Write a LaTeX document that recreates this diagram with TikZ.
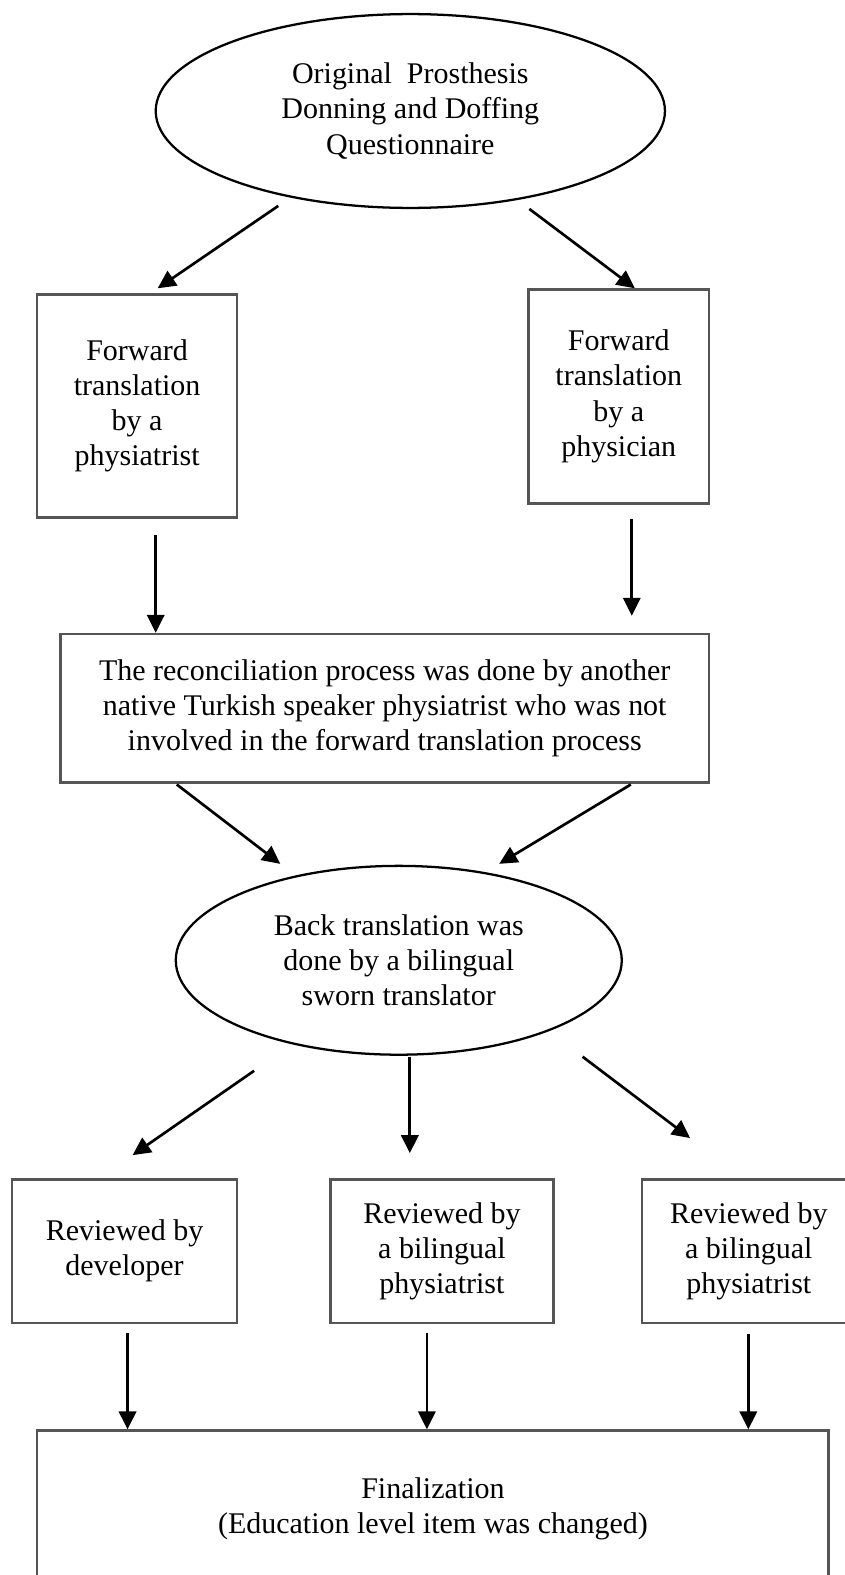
\documentclass[tikz,border=0pt]{standalone}
\usepackage{fontspec}
\setmainfont{Liberation Serif}
\usetikzlibrary{shapes.geometric,arrows.meta}
\definecolor{boxgray}{RGB}{85,85,85}
\tikzset{
  sz/.style 2 args={minimum width={0.7535pt*#1},minimum height={0.7535pt*#2}},
  boxnode/.style={draw=boxgray,line width=1.9pt,rectangle,inner sep=0pt,align=center,
    font=\fontsize{22.5pt}{26.4pt}\selectfont},
  ellnode/.style={draw=black,line width=1.7pt,ellipse,inner sep=0pt,align=center,
    font=\fontsize{22.5pt}{26.4pt}\selectfont},
  arr/.style={line width=2pt,-{Triangle[length=13.5pt,width=13pt]}}
}
\begin{document}
\begin{tikzpicture}[x=0.7535pt,y=-0.7535pt]
\useasboundingbox (0,0) rectangle (841,1568);
\clip (0,0) rectangle (841,1568);
% nodes
\node[ellnode,sz={507}{193}] (orig) at (408.5,110.5)
  {Original\hspace{0.25em} Prosthesis\\Donning and Doffing\\Questionnaire};
\node[boxnode,sz={199}{222}] (fwdA) at (136.5,404)
  {Forward\\translation\\by a\\physiatrist};
\node[boxnode,sz={180}{213}] (fwdB) at (616,394.5)
  {Forward\\translation\\by a\\physician};
\node[boxnode,sz={646}{148}] (recon) at (383,705)
  {The reconciliation process was done by another\\native Turkish speaker physiatrist who was not\\involved in the forward translation process};
\node[ellnode,sz={444}{188}] (back) at (397,956)
  {Back translation was\\done by a bilingual\\sworn translator};
\node[boxnode,sz={224}{143}] (revA) at (124,1245.5)
  {Reviewed by\\developer};
\node[boxnode,sz={222}{143}] (revB) at (440,1245.5)
  {Reviewed by\\a bilingual\\physiatrist};
\node[boxnode,sz={213}{143}] (revC) at (745.5,1245.5)
  {Reviewed by\\a bilingual\\physiatrist};
\node[boxnode,sz={788}{156}] (final) at (431,1502)
  {Finalization\\(Education level item was changed)};
% arrow end points
\coordinate (a1s) at (277,205);  \coordinate (a1e) at (157,287);
\coordinate (a2s) at (527,208);  \coordinate (a2e) at (632,287);
\coordinate (a3s) at (155,533);  \coordinate (a3e) at (155,630);
\coordinate (a4s) at (629,517);  \coordinate (a4e) at (629,613);
\coordinate (a5s) at (176,781);  \coordinate (a5e) at (279,860);
\coordinate (a6s) at (628,781);  \coordinate (a6e) at (497,860);
\coordinate (a7s) at (253,1066); \coordinate (a7e) at (132,1150);
\coordinate (a8s) at (408,1052); \coordinate (a8e) at (408,1148);
\coordinate (a9s) at (580,1052); \coordinate (a9e) at (687,1133);
\coordinate (b1s) at (127,1327); \coordinate (b1e) at (127,1423);
\coordinate (b2s) at (425,1327); \coordinate (b2e) at (425,1423);
\coordinate (b3s) at (745,1328); \coordinate (b3e) at (745,1423);
% arrows
\draw[arr] (a1s) -- (a1e);
\draw[arr] (a2s) -- (a2e);
\draw[arr] (a3s) -- (a3e);
\draw[arr] (a4s) -- (a4e);
\draw[arr] (a5s) -- (a5e);
\draw[arr] (a6s) -- (a6e);
\draw[arr] (a7s) -- (a7e);
\draw[arr] (a8s) -- (a8e);
\draw[arr] (a9s) -- (a9e);
\draw[arr] (b1s) -- (b1e);
\draw[arr] (b2s) -- (b2e);
\draw[arr] (b3s) -- (b3e);
\end{tikzpicture}
\end{document}
